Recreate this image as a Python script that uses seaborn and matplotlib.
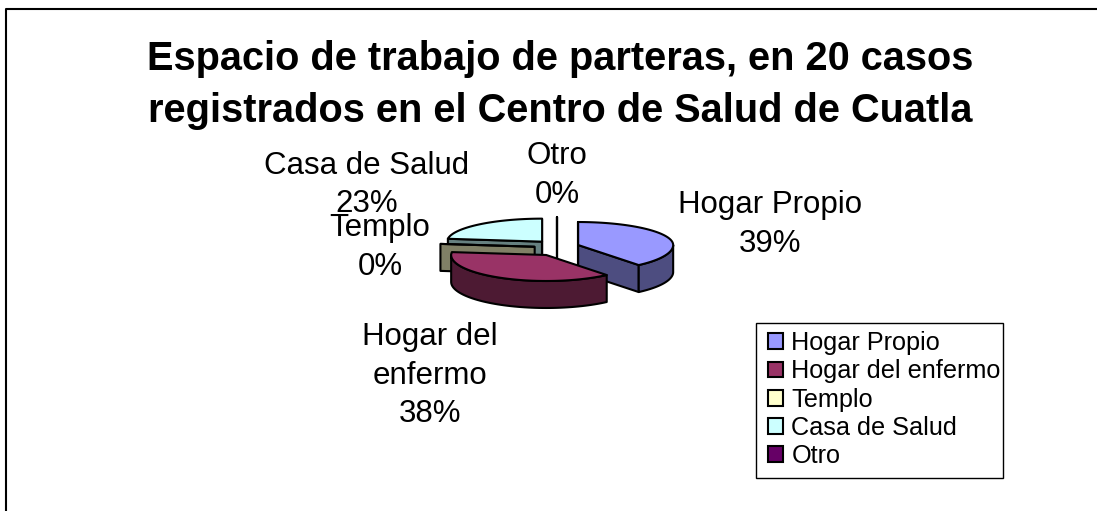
import numpy as np
import matplotlib
matplotlib.use('Agg')
import matplotlib.pyplot as plt
from matplotlib.patches import Patch, Rectangle
import seaborn as sns

categories = ['Hogar Propio', 'Hogar del enfermo', 'Templo', 'Casa de Salud', 'Otro']
values = [39, 38, 0, 23, 0]
top_colors = ['#9999FF', '#993366', '#FFFFCC', '#CCFFFF', '#660066']
side_colors = ['#4D4D80', '#4D1A33', '#808066', '#668080', '#330033']
title = 'Espacio de trabajo de parteras, en 20 casos\nregistrados en el Centro de Salud de Cuatla'
label_text = ['Hogar Propio', 'Hogar del\nenfermo', 'Templo', 'Casa de Salud', 'Otro']
label_pos = [(770, 224.5), (430, 375.5), (380, 247.5), (367, 185), (557, 175.5)]

sns.set_theme(style='white')
plt.rcParams['font.family'] = ['Liberation Sans', 'DejaVu Sans']
palette = sns.color_palette(top_colors)

fig = plt.figure(figsize=(10.97, 5.11), dpi=100)
ax = fig.add_axes([0, 0, 1, 1])
ax.set_xlim(0, 1097)
ax.set_ylim(511, 0)
ax.axis('off')

# frame, only left and top are inside the picture
ax.plot([5.5, 5.5, 1097], [511, 9, 9], color='black', lw=1.5, solid_capstyle='butt')

ax.text(560, 85, title, ha='center', va='center', fontsize=28.65, fontweight='bold',
        color='black', linespacing=1.47)

# pie geometry
cx, cy = 557, 247.8
rx = 95
ry_back, ry_front = 23, 26
ex, ey = 22.5, 8.2
depth = 27


def pt(center, ang):
    cos_a = np.cos(ang)
    return center[0] + rx * np.sin(ang), center[1] - np.where(cos_a > 0, ry_back, ry_front) * cos_a


shares = np.array(values) / sum(values) * 2 * np.pi
ends = np.cumsum(shares)
starts = ends - shares
mids = (starts + ends) / 2

for i in np.argsort(-np.cos(mids)):
    c = (cx + ex * np.sin(mids[i]), cy - ey * np.cos(mids[i]))
    a, b = starts[i], ends[i]
    kw = dict(edgecolor='black', lw=1.5, joinstyle='round')
    # flat side faces
    for ang, normal in ((a, a - np.pi / 2), (b, b + np.pi / 2)):
        if np.cos(normal) < 1e-6:
            x, y = pt(c, ang)
            ax.fill([c[0], x, x, c[0]], [c[1], y, y + depth, c[1] + depth],
                    facecolor=side_colors[i], **kw)
    # curved rim, front half only
    lo, hi = max(a, np.pi / 2), min(b, 3 * np.pi / 2)
    if hi > lo:
        t = np.linspace(lo, hi, 60)
        x, y = pt(c, t)
        ax.fill(np.r_[x, x[::-1]], np.r_[y, y[::-1] + depth],
                facecolor=side_colors[i], **kw)
    # top of the slice
    t = np.linspace(a, b, 80)
    x, y = pt(c, t)
    ax.fill(np.r_[c[0], x], np.r_[c[1], y], facecolor=palette[i], **kw)

for txt, val, (x, y) in zip(label_text, values, label_pos):
    ax.text(x, y, f'{txt}\n{val}%', ha='center', va='center', fontsize=22.5,
            color='black', linespacing=1.376)

# legend box is tighter on the right than a legend frame allows
ax.add_patch(Rectangle((756, 323), 247, 155, facecolor='white', edgecolor='black', lw=1))
handles = [Patch(facecolor=col, edgecolor='black', lw=1.5) for col in palette]
leg = ax.legend(handles, categories, loc='upper left', bbox_to_anchor=(768, 331),
                bbox_transform=ax.transData, frameon=False, borderaxespad=0, borderpad=0,
                labelspacing=0.17, handlelength=0.58, handleheight=0.58, handletextpad=0.34,
                labelcolor='black', prop={'family': ['Liberation Sans'], 'size': 18.2})

fig.savefig('out.png', dpi=100)
